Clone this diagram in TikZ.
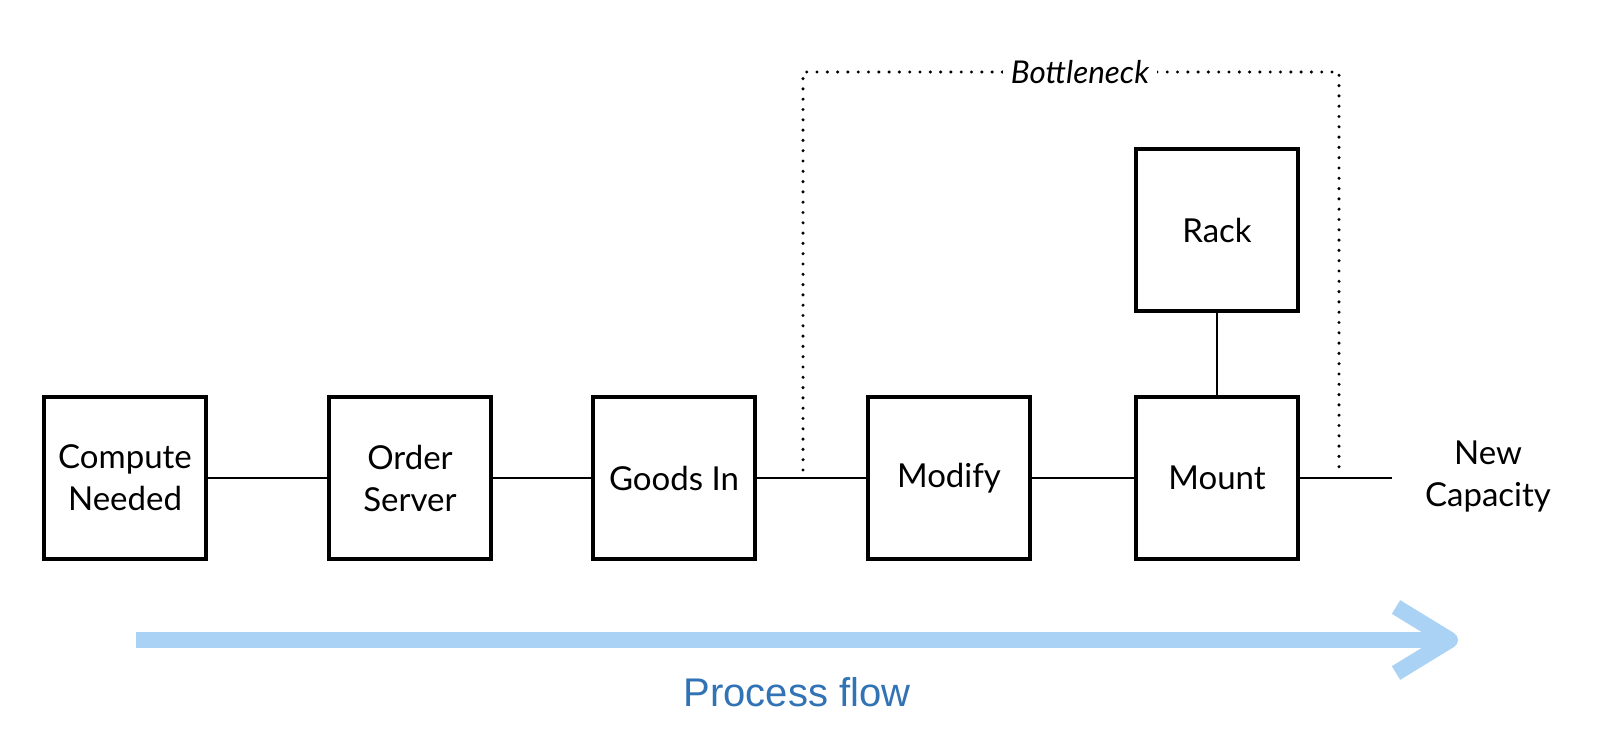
\documentclass[tikz,border=0pt]{standalone}
\usepackage{fontspec}
\setmainfont{Lato}
\newfontfamily\pfont{Liberation Sans}
\definecolor{flowblue}{RGB}{169,210,245}
\definecolor{flowtext}{RGB}{50,115,181}
\begin{document}
\begin{tikzpicture}[x=0.5pt,y=-0.5pt,
  box/.style={draw=black,line width=2pt,minimum width=81pt,minimum height=81pt,
    align=center,font=\fontsize{16.5}{21}\selectfont,inner sep=0pt},
  conn/.style={draw=black,line width=1pt},
  dotline/.style={draw=black,line width=1.7pt,line cap=round,dash pattern=on 0pt off 5.15pt},
  flow/.style={draw=flowblue,line width=8pt}]
\useasboundingbox[fill=white] (0,0) rectangle (1600,755);
% boxes
\node[box] (cn) at (125,478) {Compute\\Needed};
\node[box] (os) at (410,478) {Order\\Server};
\node[box] (gi) at (674,478) {Goods In};
\node[box] (mo) at (949,478) {Modify};
\node[box] (mt) at (1217,478) {Mount};
\node[box] (rk) at (1217,230) {Rack};
\coordinate (nc) at (1392,478);
\node[align=center,font=\fontsize{16.5}{21}\selectfont] (nct) at (1488,477) {New\\Capacity};
% connectors
\draw[conn] (cn) -- (os);
\draw[conn] (os) -- (gi);
\draw[conn] (gi) -- (mo);
\draw[conn] (mo) -- (mt);
\draw[conn] (rk) -- (mt);
\draw[conn] (mt) -- (nc);
% bottleneck
\coordinate (bl) at (803,470);
\coordinate (tl) at (803,72);
\coordinate (tr) at (1339,72);
\coordinate (br) at (1339,468);
\draw[dotline] (bl) -- (tl) -- (tr) -- (br);
\node[fill=white,inner xsep=4pt,inner ysep=2pt,font=\itshape\fontsize{15.7}{18}\selectfont] (bn) at (1080,72) {Bottleneck};
% process flow
\coordinate (as) at (136,640);
\coordinate (ae) at (1445,640);
\coordinate (hw1) at (1396,607);
\coordinate (hw2) at (1396,673);
\coordinate (ht) at (1450,640);
\draw[flow] (as) -- (ae);
\draw[flow,line join=round,line cap=butt] (hw1) -- (ht) -- (hw2);
\node[text=flowtext,font=\pfont\fontsize{20}{24}\selectfont] (pf) at (797,692) {Process flow};
\end{tikzpicture}
\end{document}
